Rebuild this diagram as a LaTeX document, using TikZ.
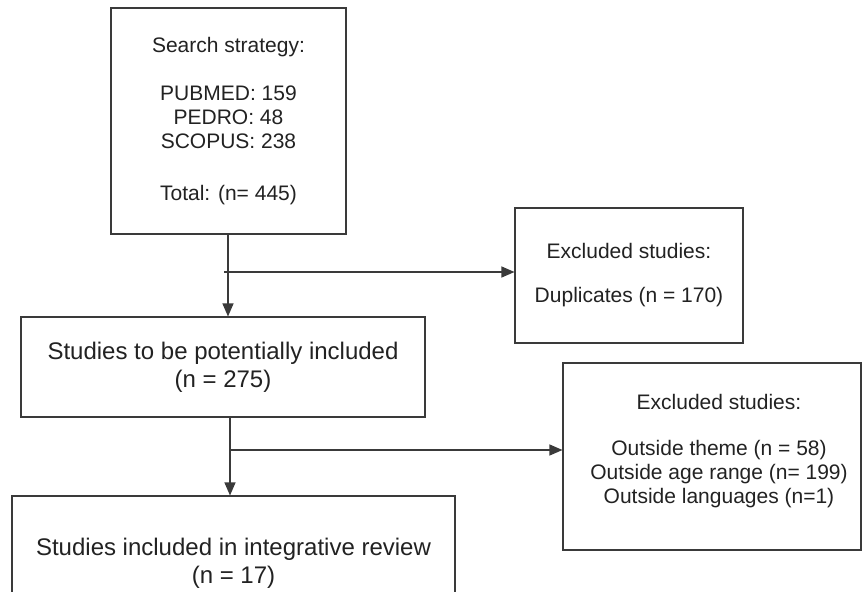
\documentclass[tikz,border=0pt]{standalone}
\usepackage{fontspec}
\setmainfont{Liberation Sans}
\usetikzlibrary{arrows.meta}
\definecolor{linec}{HTML}{3A3A3A}
\definecolor{textc}{HTML}{222222}
\tikzset{
  box/.style={draw=linec, line width=1.1pt, rectangle, inner sep=0pt, text=textc, align=center},
  small/.style={font=\fontsize{21}{24}\selectfont},
  big/.style={font=\fontsize{24}{28}\selectfont},
  flow/.style={draw=linec, line width=1.1pt, -{Triangle[length=13pt,width=11pt]}},
  lbl/.style={text=textc, align=center, inner sep=0pt}
}
\begin{document}
\begin{tikzpicture}[x=1pt,y=-1pt]
\fill[white] (0,0) rectangle (863,592);
% boxes
\node[box, small, minimum width=235pt, minimum height=226pt] (b1) at (228.5,121)
  {Search strategy:\\[24pt]PUBMED: 159\\PEDRO: 48\\SCOPUS: 238\\[28pt]Total: (n= 445)};
\node[box, small, minimum width=228pt, minimum height=135pt] (b2) at (629,275.5)
  {Excluded studies:\\[20pt]Duplicates (n = 170)};
\node[box, big, minimum width=404pt, minimum height=100pt] (b3) at (223,367)
  {Studies to be potentially included\\(n = 275)};
\node[box, minimum width=298pt, minimum height=187pt] (b4) at (712,456.5) {};
\node[lbl, small] (t4) at (719,451)
  {Excluded studies:\\[22pt]Outside theme (n = 58)\\Outside age range (n= 199)\\Outside languages (n=1)};
\node[box, big, minimum width=443pt, minimum height=134pt] (b5) at (233.5,563)
  {Studies included in integrative review\\(n = 17)};
% connectors
\coordinate (j1) at (228,272);
\coordinate (j2) at (230,450);
\draw[flow] (j1 |- b1.south) -- (j1 |- b3.north);
\draw[flow] (224,272) -- (j1 -| b2.west);
\draw[flow] (j2 |- b3.south) -- (j2 |- b5.north);
\draw[flow] (j2) -- (j2 -| b4.west);
\pgfresetboundingbox
\useasboundingbox (0,0) rectangle (863,592);
\end{tikzpicture}
\end{document}
